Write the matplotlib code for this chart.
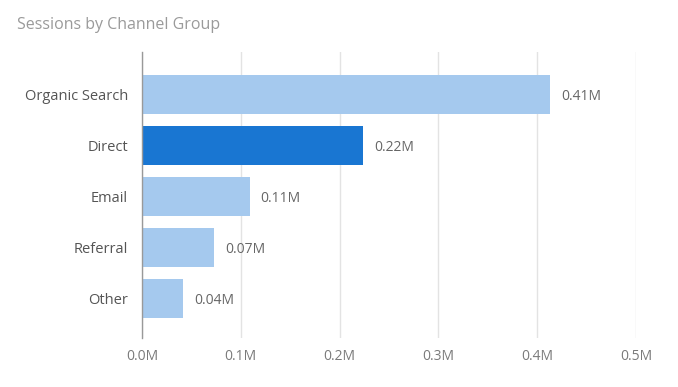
import matplotlib
matplotlib.use("Agg")
import matplotlib.pyplot as plt
from matplotlib.ticker import FuncFormatter

# data
channels = ["Organic Search", "Direct", "Email", "Referral", "Other"]
sessions = [413000, 224000, 109000, 73000, 41500]
labels = ["0.41M", "0.22M", "0.11M", "0.07M", "0.04M"]
highlight = "Direct"
xticks = [0, 100000, 200000, 300000, 400000, 500000]

plt.rcParams['font.family'] = ['Open Sans', 'DejaVu Sans']

fig = plt.figure(figsize=(6.78, 3.87), dpi=100)
ax = fig.add_axes([142 / 678, 1 - 338 / 387, (636 - 142) / 678, (338 - 52) / 387])

light = "#a5c9ee"
dark = "#1976d2"
colors = [dark if c == highlight else light for c in channels]
ypos = list(range(len(channels)))

ax.barh(ypos, sessions, height=0.77, color=colors, edgecolor="none", zorder=2)

for y, v, lab in zip(ypos, sessions, labels):
    ax.text(v + 11000, y + 0.04, lab, va="center", ha="left", fontsize=10,
            color="#666666", zorder=3)

ax.set_xlim(0, 500000)
ax.set_ylim(len(channels) - 1 + 0.775, -0.833)
ax.set_yticks(ypos)
ax.set_yticklabels(channels)
ax.set_xticks(xticks)
ax.xaxis.set_major_formatter(FuncFormatter(lambda x, p: f"{x / 1e6:.1f}M"))

ax.grid(axis="x", color="#e3e3e3", linewidth=1, zorder=0)
ax.grid(axis="y", visible=False)
for s in ["top", "right", "bottom"]:
    ax.spines[s].set_visible(False)
ax.spines["left"].set_color("#999999")
ax.spines["left"].set_linewidth(1)
ax.spines["left"].set_zorder(4)

ax.tick_params(axis="x", length=0, pad=8, labelsize=10, labelcolor="#7a7a7a")
ax.tick_params(axis="y", length=0, pad=10, labelsize=10.5, labelcolor="#555555")

fig.text(17 / 678, 1 - 25 / 387, "Sessions by Channel Group", fontsize=11.5,
         color="#9a9a9a", va="center", ha="left")

fig.savefig("out.png", dpi=100)
